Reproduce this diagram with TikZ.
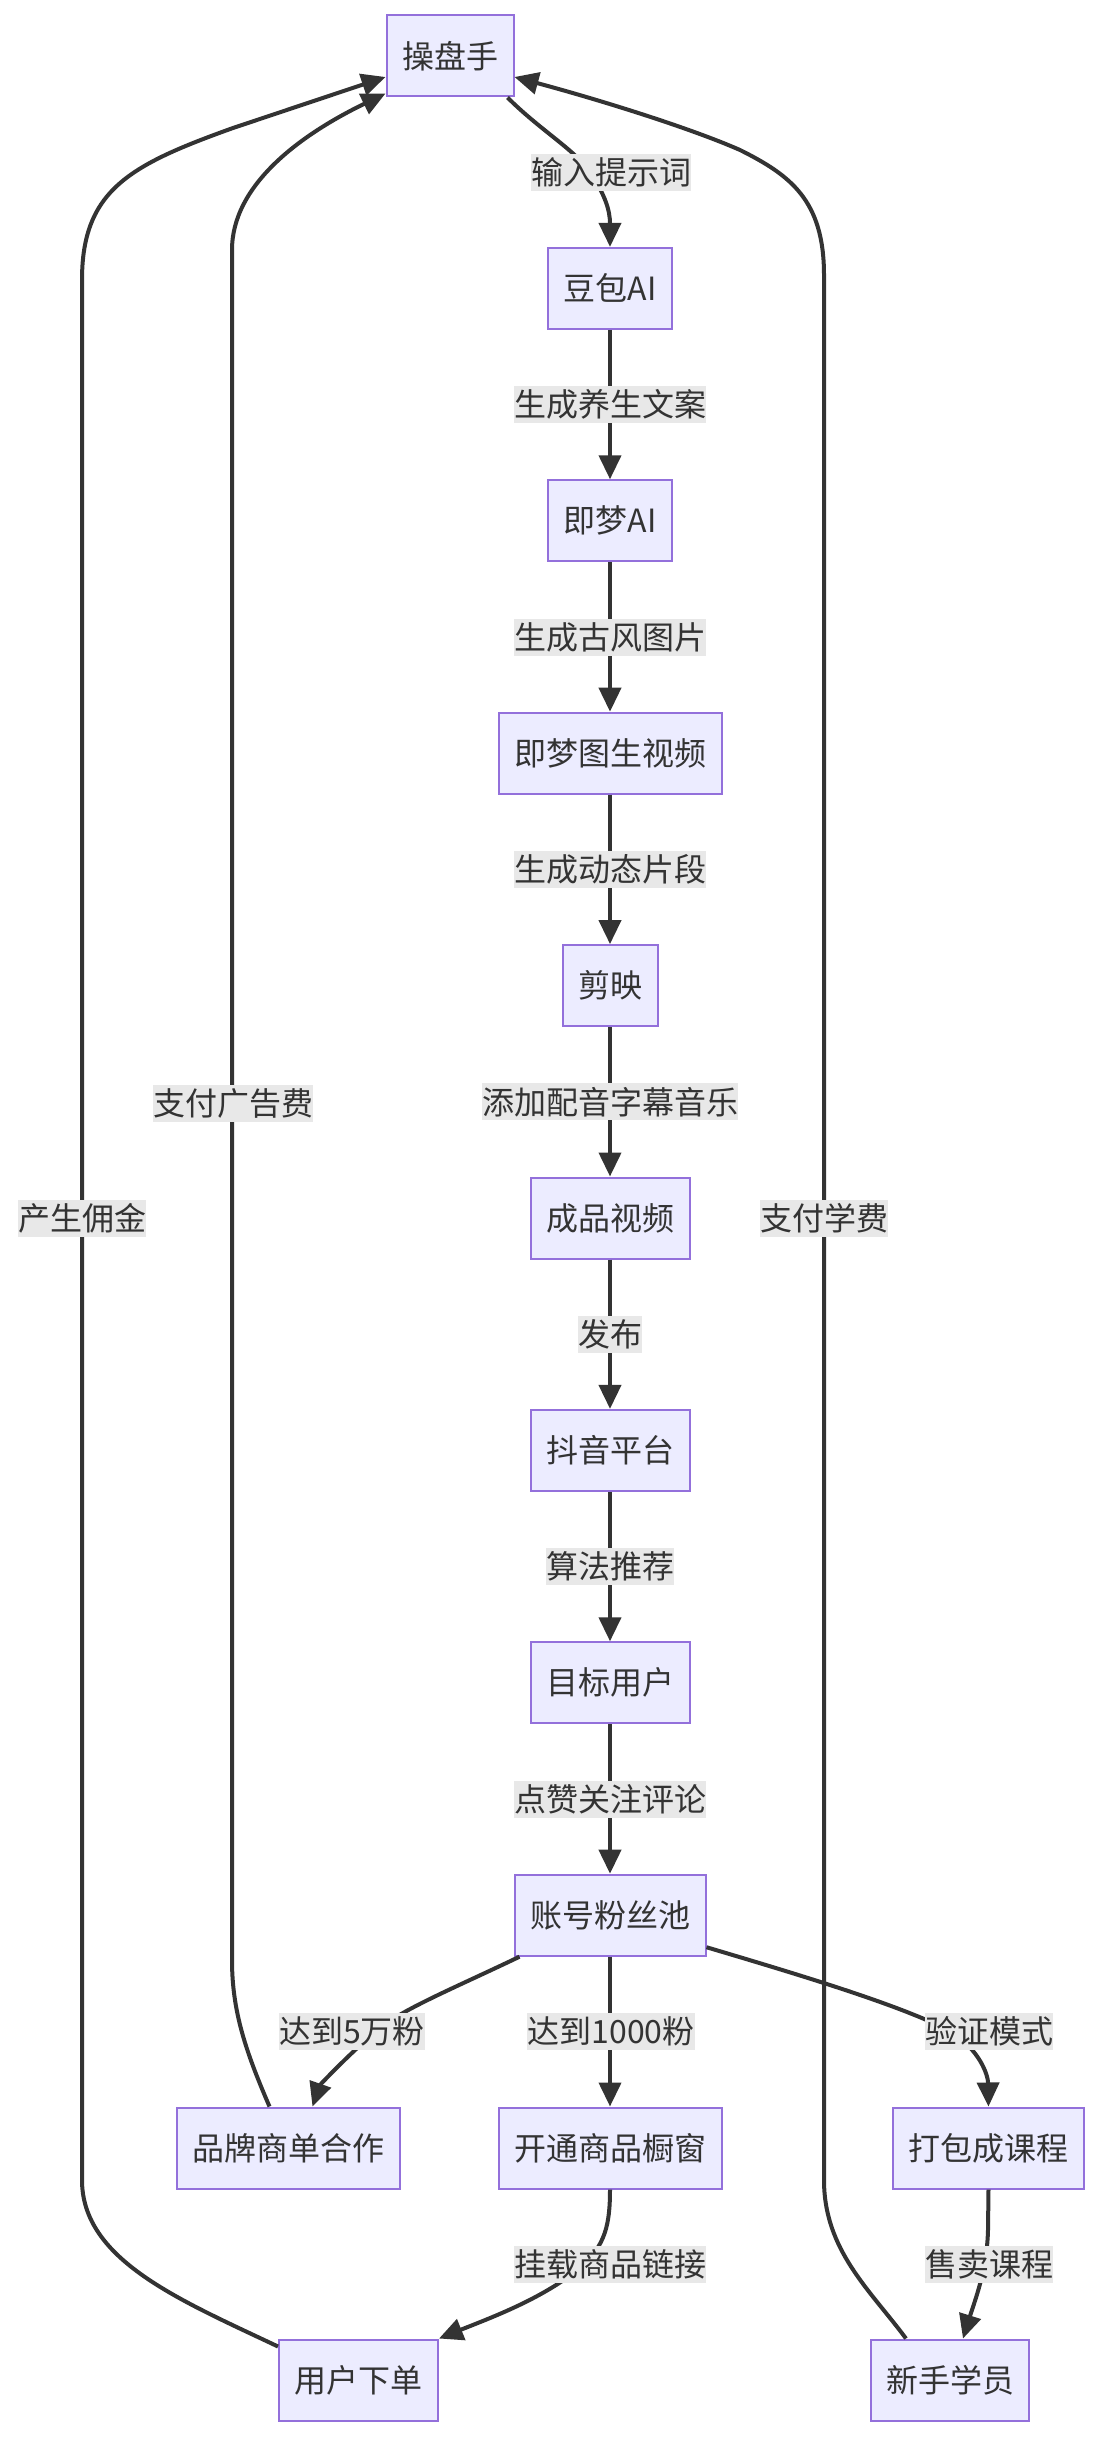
\documentclass[tikz,border=0pt]{standalone}
\usepackage{fontspec}
\setmainfont{Noto Sans CJK SC}
\usetikzlibrary{arrows.meta,calc}
\definecolor{edgec}{HTML}{333333}
\definecolor{nodefill}{HTML}{ECECFF}
\definecolor{nodeborder}{HTML}{9370DB}
\definecolor{lblbg}{HTML}{E8E8E8}
\definecolor{txt}{HTML}{333333}
\tikzset{
  box/.style={draw=nodeborder, fill=nodefill, line width=2pt, inner sep=0pt,
    minimum height=81pt, text=txt, anchor=center},
  lbl/.style={fill=lblbg, inner xsep=0pt, inner ysep=0pt, minimum height=37pt, text=txt},
  edge/.style={draw=edgec, line width=4pt, -{Triangle[length=24pt,width=22pt]}},
}
\begin{document}
\begin{tikzpicture}[x=1pt,y=-1pt,font=\fontsize{32pt}{38pt}\selectfont]
\fill[white] (0,0) rectangle (1100,2438);
\useasboundingbox (0,0) rectangle (1100,2438);
% nodes
\node[box, minimum width=127pt] (cp) at (450,56) {操盘手};
\node[box, minimum width=124pt] (db) at (610,288.4) {豆包AI};
\node[box, minimum width=124pt] (jm) at (610,520.8) {即梦AI};
\node[box, minimum width=223pt] (tv) at (610,753.2) {即梦图生视频};
\node[box, minimum width=95pt] (jy) at (610,985.6) {剪映};
\node[box, minimum width=159pt] (cv) at (610,1218) {成品视频};
\node[box, minimum width=159pt] (dy) at (610,1450.4) {抖音平台};
\node[box, minimum width=159pt] (mb) at (610,1682.8) {目标用户};
\node[box, minimum width=191pt] (fs) at (610,1915.2) {账号粉丝池};
\node[box, minimum width=223pt] (pp) at (288.5,2148) {品牌商单合作};
\node[box, minimum width=223pt] (sc) at (610,2148) {开通商品橱窗};
\node[box, minimum width=191pt] (kc) at (988.5,2148) {打包成课程};
\node[box, minimum width=159pt] (yh) at (358.5,2380) {用户下单};
\node[box, minimum width=158pt] (xs) at (950,2380) {新手学员};
% edges
\draw[edge] ([xshift=-7pt]cp.south east) .. controls (540,130) and (575,150) .. (590,172)
  .. controls (605,195) and (610,210) .. (db.north);
\draw[edge] (db) -- (jm);
\draw[edge] (jm) -- (tv);
\draw[edge] (tv) -- (jy);
\draw[edge] (jy) -- (cv);
\draw[edge] (cv) -- (dy);
\draw[edge] (dy) -- (mb);
\draw[edge] (mb) -- (fs);
\draw[edge] ([xshift=6pt]fs.south west) .. controls (450,1990) and (400,2010) .. (375,2032)
  .. controls (345,2058) and (320,2085) .. ([xshift=24pt]pp.north);
\draw[edge] (fs) -- (sc);
\draw[edge] ([yshift=-32pt]fs.east) .. controls (800,1975) and (900,2005) .. (950,2031)
  .. controls (980,2050) and (988,2075) .. (kc.north);
\draw[edge] (sc.south) .. controls (610,2225) and (605,2245) .. (582,2266)
  .. controls (545,2298) and (490,2318) .. (yh.north east);
\draw[edge] (kc.south) -- (988,2230) .. controls (987,2270) and (975,2300) .. ([xshift=13pt]xs.north);
\draw[edge] ([xshift=-19pt]pp.north) .. controls (245,2050) and (232,2010) .. (232,1960)
  -- (232,250) .. controls (232,185) and (300,135) .. ([yshift=4pt]cp.south west);
\draw[edge] ([yshift=-8pt]yh.north west) .. controls (180,2300) and (82,2260) .. (82,2180)
  -- (82,280) .. controls (82,190) and (130,165) .. (233,128) -- ([yshift=-21pt]cp.west);
\draw[edge] ([xshift=36pt]xs.north west) .. controls (870,2290) and (824,2250) .. (824,2180)
  -- (824,275) .. controls (824,200) and (790,175) .. (740,150)
  .. controls (690,128) and (600,100) .. ([yshift=-21pt]cp.east);
% labels
\node[lbl] (l1) at (611,172) {输入提示词};
\node[lbl] (l2) at ($(db)!0.5!(jm)$) {生成养生文案};
\node[lbl] (l3) at ($(jm)!0.5!(tv)$) {生成古风图片};
\node[lbl] (l4) at ($(tv)!0.5!(jy)$) {生成动态片段};
\node[lbl] (l5) at ($(jy)!0.5!(cv)$) {添加配音字幕音乐};
\node[lbl] (l6) at ($(cv)!0.5!(dy)$) {发布};
\node[lbl] (l7) at ($(dy)!0.5!(mb)$) {算法推荐};
\node[lbl] (l8) at ($(mb)!0.5!(fs)$) {点赞关注评论};
\node[lbl] (l9) at (352,2031) {达到5万粉};
\node[lbl] (l10) at (611,2031) {达到1000粉};
\node[lbl] (l11) at (989,2031) {验证模式};
\node[lbl] (l12) at (610,2264) {挂载商品链接};
\node[lbl] (l13) at (989,2264) {售卖课程};
\node[lbl] (l14) at (233,1103) {支付广告费};
\node[lbl] (l15) at (82,1218) {产生佣金};
\node[lbl] (l16) at (824,1218) {支付学费};
\end{tikzpicture}
\end{document}
